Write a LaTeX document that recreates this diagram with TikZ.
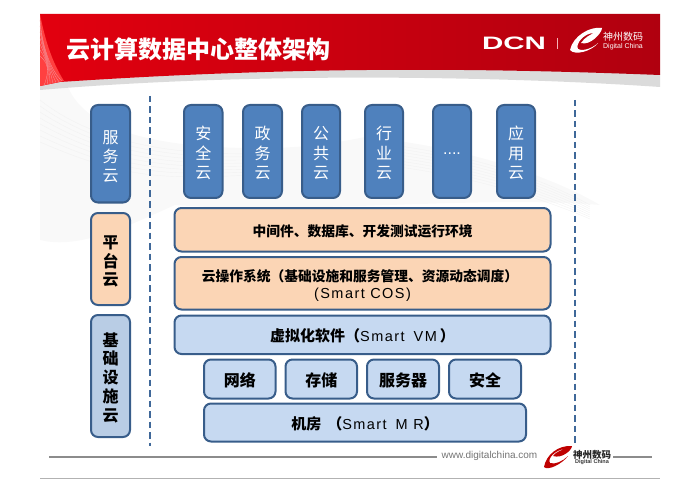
\documentclass[tikz,border=0pt]{standalone}
\usepackage{fontspec}
\setmainfont{Liberation Sans}
\newfontfamily\cjk{Noto Sans CJK SC}
\newfontfamily\latinw[LetterSpace=10]{Liberation Sans}
\newcommand{\cjkb}{\cjk\bfseries}
\newcommand{\lat}[1]{{\latinw\mdseries\fontsize{14.5}{17}\selectfont #1}}
\newcommand{\tp}[1]{\rule{0pt}{#1pt}}
\definecolor{bord}{HTML}{385D8A}
\definecolor{dblue}{HTML}{4F81BD}
\definecolor{peach}{HTML}{FBD5B5}
\definecolor{lblue}{HTML}{C6D9F1}
\definecolor{lblueb}{HTML}{B9CDE5}
\definecolor{hred}{HTML}{E2000F}
\definecolor{hdark}{HTML}{B0000F}
\tikzset{
  x=1pt,y=-1pt,
  cbox/.style={draw=bord,line width=2pt,rounded corners=7pt,inner sep=0pt,align=center},
  topbox/.style={cbox,fill=dblue,text=white,font=\cjk\fontsize{16}{19.6}\selectfont},
  peachbox/.style={cbox,fill=peach,font=\cjkb\fontsize{13.75}{17}\selectfont},
  bluebox/.style={cbox,fill=lblue,font=\cjkb\fontsize{15}{18}\selectfont},
  sidebox/.style={cbox,font=\cjkb\fontsize{16}{18.7}\selectfont},
  smallbox/.style={bluebox,font=\cjkb\fontsize{16}{18}\selectfont},
  dashline/.style={draw=bord!70!dblue,line width=1.2pt,dash pattern=on 6.5pt off 4pt},
  rule/.style={draw=black!45,line width=1.6pt},
  swoosh/.style={draw=black!5,line width=.4pt}
}
\newcommand{\placebox}[7]{%
  \pgfmathsetlengthmacro{\boxw}{#4-#3-2}\pgfmathsetlengthmacro{\boxh}{#6-#5-2}%
  \node[#1,minimum width=\boxw,minimum height=\boxh,anchor=center] (#2) at ({(#3+#4)/2},{(#5+#6)/2}) {#7};}
\begin{document}
\begin{tikzpicture}
\useasboundingbox (0,0) rectangle (700,494);
% faint background swooshes
\fill[black!2.5] (40,90) -- (68,87) .. controls (82,120) and (130,150) .. (272,148) .. controls (315,147) and (345,141) .. (365,137) .. controls (450,145) and (540,170) .. (600,205) .. controls (480,195) and (300,215) .. (175,205) .. controls (130,225) and (80,250) .. (40,240) -- cycle;
\foreach \k in {0,6,...,42}{
  \draw[swoosh] (40,{100+\k}) .. controls ({90+\k},{140+\k}) and (170,{158+\k/2}) .. (272,{153+\k/2});
  \draw[swoosh] (365,{142+\k/2}) .. controls (450,{150+\k/2}) and (530,{172+\k/2}) .. (590,{205+\k/3});
}
% header
\fill[black!14] (40,80) .. controls (200,72) and (350,64) .. (660,74) -- (660,87) .. controls (500,76) and (250,72) .. (40,90) -- cycle;
\shade[left color=hred,right color=hdark] (40,14) -- (660,14) -- (660,75) .. controls (480,68) and (300,66) .. (60,82) -- (40,86) -- cycle;
\fill[red!75!white] (40,14) .. controls (45,40) and (52,62) .. (64,81) -- (40,86) -- cycle;
\foreach \k in {0,3,...,18}{
  \draw[white!60!hred,line width=.3pt] (40,{20+\k*2}) .. controls ({42+\k/3},{45+\k}) and (50,70) .. ({62-\k},{81+\k/4});
}
\node[text=white,font=\cjkb\fontsize{24}{26}\selectfont,anchor=center] (title) at (198,49) {云计算数据中心整体架构};
% DCN logo
\node[text=white,font=\bfseries\fontsize{18}{19}\selectfont,xscale=1.64,anchor=center] (dcn) at (514,43) {DCN};
\draw[white!70!hred,line width=.5pt] (557,38) -- (557,49);
\fill[white] (570,50) .. controls (573,36) and (590,26) .. (602,28) .. controls (602,33) and (590,46) .. (581,43) .. controls (585,37) and (590,35) .. (594,33) .. controls (584,33) and (575,44) .. (578,49) .. controls (584,52) and (594,47) .. (598,43) .. controls (592,51) and (575,56) .. (570,50) -- cycle;
\node[text=white,font=\cjk\fontsize{10}{11}\selectfont,anchor=center] (hlogo) at (623,37) {神州数码};
\node[text=white,font=\fontsize{7}{8}\selectfont,anchor=center] (hlogoen) at (623,47) {Digital China};
% dashed rules
\coordinate (d1a) at (150,96); \coordinate (d1b) at (150,446);
\coordinate (d2a) at (575,100); \coordinate (d2b) at (575,446);
\draw[dashline] (d1a) -- (d1b);
\draw[dashline] (d2a) -- (d2b);
% side
\placebox{topbox,font=\cjk\fontsize{16}{19}\selectfont}{s1}{90}{131}{104}{203.5}{\tp{18}服\\务\\云}
\placebox{sidebox,fill=peach}{s2}{90}{131}{212}{306}{\tp{18}平\\台\\云}
\placebox{sidebox,fill=lblueb}{s3}{90}{131}{314}{438}{\tp{17}基\\础\\设\\施\\云}
% top row
\placebox{topbox}{t1}{183}{223.5}{104}{199}{\tp{17}安\\全\\云}
\placebox{topbox}{t2}{242}{283}{104}{199}{\tp{17}政\\务\\云}
\placebox{topbox}{t3}{301}{341}{104}{199}{\tp{17}公\\共\\云}
\placebox{topbox}{t4}{364}{404}{104}{199}{\tp{17}行\\业\\云}
\placebox{topbox}{t5}{432}{472}{104}{199}{\fontspec{Liberation Sans}\rule{0pt}{7pt}....}
\placebox{topbox}{t6}{496}{536}{104}{199}{\tp{17}应\\用\\云}
% layers
\placebox{peachbox}{m1}{173.5}{551.5}{207}{252.5}{\tp{15}中间件、数据库、开发测试运行环境}
\placebox{peachbox}{m2}{173.5}{551.5}{256}{310.5}{\tp{16}云操作系统（基础设施和服务管理、资源动态调度）\hspace*{5pt}\\\lat{(Smart COS)}}
\placebox{bluebox}{m3}{173.5}{551.5}{314.5}{355}{\tp{16}虚拟化软件（\lat{Smart\hspace{9pt}VM\hspace{3pt}}）}
\placebox{smallbox}{b1}{203}{276.5}{358.5}{399.5}{\tp{16}网络}
\placebox{smallbox}{b2}{284.5}{358}{358.5}{399.5}{\tp{16}存储}
\placebox{smallbox}{b3}{366}{440}{358.5}{399.5}{\tp{16}服务器}
\placebox{smallbox}{b4}{448}{522}{358.5}{399.5}{\tp{16}安全}
\placebox{bluebox}{m4}{203}{527}{402.5}{442.5}{\tp{16}机房\hspace{6pt}（\lat{Smart\hspace{9pt}M R}）}
% footer
\coordinate (f1) at (49,457); \coordinate (f2) at (437,457);
\coordinate (f3) at (613,457); \coordinate (f4) at (652,457);
\coordinate (f5) at (40,478); \coordinate (f6) at (660,478);
\draw[rule] (f1) -- (f2);
\draw[rule] (f3) -- (f4);
\draw[draw=black!30,line width=.7pt] (f5) -- (f6);
\node[text=black!55,font=\fontsize{10}{11}\selectfont,anchor=center] (url) at (489.5,456) {www.digitalchina.com};
\fill[red!75!black] (544,467) .. controls (546,455) and (558,445) .. (572,446) .. controls (572,450) and (562,459) .. (553,456) .. controls (556,452) and (560,451) .. (564,449) .. controls (556,450) and (547,458) .. (550,463) .. controls (555,465) and (563,461) .. (568,456) .. controls (562,464) and (548,471) .. (544,467) -- cycle;
\node[text=black!85,font=\cjkb\fontsize{9.5}{10}\selectfont,anchor=center] (flogo) at (592,455) {神州数码};
\node[text=black!80,font=\bfseries\fontsize{5.5}{6}\selectfont,anchor=center] (flogoen) at (592,462.5) {Digital China};
\end{tikzpicture}
\end{document}
